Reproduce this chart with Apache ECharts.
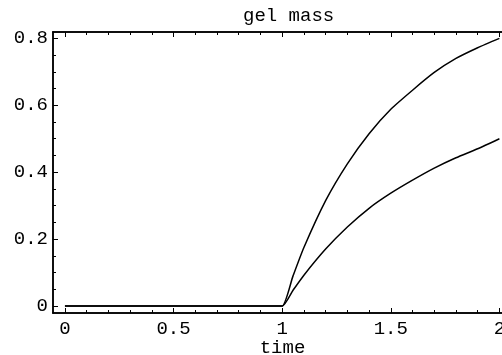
<!DOCTYPE html>
<html>
<head>
<meta charset="utf-8">
<script src="https://cdn.jsdelivr.net/npm/echarts@6/dist/echarts.min.js"></script>
<style>html,body{margin:0;padding:0;background:#fff}#c{width:502px;height:355px}</style>
</head>
<body>
<div id="c"></div>
<script>
var titleText = 'gel mass';
var xName = 'time';
var time  = [0, 0.95, 1, 1.05, 1.1, 1.2, 1.3, 1.4, 1.5, 1.6, 1.7, 1.8, 1.9, 2.0];
var upper = [0, 0, 0, 0.09, 0.175, 0.315, 0.425, 0.515, 0.588, 0.645, 0.698, 0.74, 0.772, 0.80];
var lower = [0, 0, 0, 0.047, 0.092, 0.17, 0.236, 0.292, 0.337, 0.376, 0.412, 0.443, 0.47, 0.50];
var xMajor = [0, 0.5, 1, 1.5, 2];
var xMajorLabels = ['0', '0.5', '1', '1.5', '2'];
var yMajor = [0, 0.2, 0.4, 0.6, 0.8];
var yMajorLabels = ['0', '0.2', '0.4', '0.6', '0.8'];

var xMin = -0.055, xMax = 2.058, yMin = -0.021, yMax = 0.819;
var xMinor = [];
for (var i = -1; i <= 21; i++) { var v = +(i * 0.1).toFixed(2); if (v > xMin && v < xMax && Math.abs(v * 2 - Math.round(v * 2)) > 1e-6) xMinor.push(v); }
var yMinor = [];
for (var j = 0; j <= 16; j++) { var w = +(j * 0.05).toFixed(2); if (Math.abs(w * 5 - Math.round(w * 5)) > 1e-6) yMinor.push(w); }

var font = 'Liberation Mono';
var labelMap = {};
xMajor.forEach(function (v, k) { labelMap['x' + v] = xMajorLabels[k]; });
yMajor.forEach(function (v, k) { labelMap['y' + v] = yMajorLabels[k]; });

function xAxisDef(pos, vals, len, showLabel, name) {
  return {
    type: 'value', position: pos, min: xMin, max: xMax,
    name: name || '', nameLocation: 'middle', nameGap: 25, nameMoveOverlap: false,
    nameTextStyle: { fontFamily: font, fontSize: 19, color: '#000' },
    axisLine: { show: true, onZero: false, lineStyle: { color: '#000', width: 1.5 } },
    axisTick: { show: true, inside: true, length: len, customValues: vals, lineStyle: { color: '#000', width: 1 } },
    axisLabel: { show: showLabel, customValues: vals, margin: 6, fontFamily: font, fontSize: 19, color: '#000',
      formatter: function (v) { var r = Math.round(v * 10) / 10; return labelMap['x' + r] || ''; } },
    splitLine: { show: false }
  };
}
function yAxisDef(pos, vals, len, showLabel) {
  return {
    type: 'value', position: pos, min: yMin, max: yMax,
    axisLine: { show: true, onZero: false, lineStyle: { color: '#000', width: 1.5 } },
    axisTick: { show: true, inside: true, length: len, customValues: vals, lineStyle: { color: '#000', width: 1 } },
    axisLabel: { show: showLabel, customValues: vals, margin: 5, fontFamily: font, fontSize: 19, color: '#000',
      formatter: function (v) { var r = Math.round(v * 10) / 10; return labelMap['y' + r] || ''; } },
    splitLine: { show: false }
  };
}

var chart = echarts.init(document.getElementById('c'), null, { renderer: 'canvas' });
chart.setOption({
  animation: false,
  backgroundColor: '#fff',
  title: { text: titleText, left: 238, top: 1, textStyle: { fontFamily: font, fontSize: 19, fontWeight: 'normal', color: '#000' } },
  grid: { left: 53, top: 32, width: 459, height: 281, containLabel: false, outerBoundsMode: 'none' },
  xAxis: [
    xAxisDef('bottom', xMajor, 5, true, xName),
    xAxisDef('bottom', xMinor, 3, false),
    xAxisDef('top', xMajor, 5, false),
    xAxisDef('top', xMinor, 3, false)
  ],
  yAxis: [
    yAxisDef('left', yMajor, 5, true),
    yAxisDef('left', yMinor, 3, false),
    yAxisDef('right', yMajor, 5, false)
  ],
  series: [
    { type: 'line', name: 'upper', data: time.map(function (t, k) { return [t, upper[k]]; }),
      smooth: 0.2, showSymbol: false, lineStyle: { color: '#000', width: 1.5 } },
    { type: 'line', name: 'lower', data: time.map(function (t, k) { return [t, lower[k]]; }),
      smooth: 0.2, showSymbol: false, lineStyle: { color: '#000', width: 1.5 } }
  ]
});
</script>
</body>
</html>
